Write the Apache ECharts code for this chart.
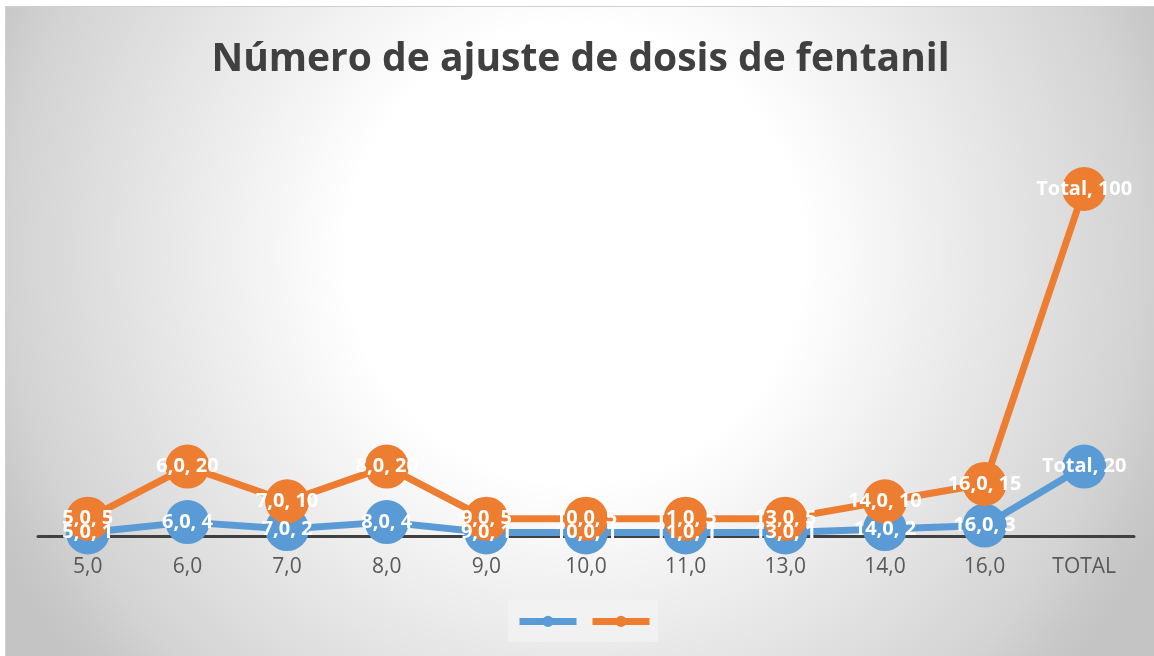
<!DOCTYPE html>
<html>
<head>
<meta charset="utf-8">
<script src="https://cdn.jsdelivr.net/npm/echarts@6/dist/echarts.min.js"></script>
<style>
  html, body { margin: 0; padding: 0; background: #ffffff; }
  #chart {
    position: absolute; left: 5px; top: 6px; width: 1149px; height: 650px;
    border-left: 1px solid #d0d0d0; border-top: 1px solid #d0d0d0;
  }
</style>
</head>
<body>
<div id="chart"></div>
<script>
// categorias del eje x
var categorias = ["5,0", "6,0", "7,0", "8,0", "9,0", "10,0", "11,0", "13,0", "14,0", "16,0", "TOTAL"];
// nombres usados en las etiquetas
var nombresEtiqueta = ["5,0", "6,0", "7,0", "8,0", "9,0", "10,0", "11,0", "13,0", "14,0", "16,0", "Total"];
// serie azul
var serieAzul = [1, 4, 2, 4, 1, 1, 1, 1, 2, 3, 20];
// serie naranja
var serieNaranja = [5, 20, 10, 20, 5, 5, 5, 5, 10, 15, 100];

var myChart = echarts.init(document.getElementById("chart"));

function etiqueta(p) {
  return nombresEtiqueta[p.dataIndex] + ", " + p.value;
}

var labelStyle = {
  show: true,
  position: "inside",
  color: "#ffffff",
  fontFamily: "Open Sans",
  fontWeight: "bold",
  fontSize: 20,
  formatter: etiqueta,
};

// series solo para etiquetas (por encima de todos los marcadores)
function serieEtiquetas(datos) {
  return {
    type: "line",
    data: datos,
    symbol: "circle",
    symbolSize: 44,
    itemStyle: { color: "transparent", borderWidth: 0 },
    lineStyle: { width: 0, color: "transparent" },
    label: labelStyle,
    labelLayout: { hideOverlap: false },
    silent: true,
    z: 10,
  };
}

var option = {
  backgroundColor: {
    type: "radial",
    x: 0.495,
    y: 0.38,
    r: 1.0,
    colorStops: [
      { offset: 0, color: "#ffffff" },
      { offset: 0.35, color: "#ffffff" },
      { offset: 0.87, color: "#d3d3d3" },
      { offset: 0.95, color: "#c8c8c8" },
      { offset: 1, color: "#c4c4c4" },
    ],
  },
  animation: false,
  title: {
    text: "Número de ajuste de dosis de fentanil",
    left: "center",
    top: 28,
    textStyle: {
      fontFamily: "Open Sans",
      fontWeight: "bold",
      fontSize: 39,
      color: "#404040",
    },
  },
  legend: {
    data: ["Serie1", "Serie2"],
    bottom: 15,
    left: 502,
    padding: [15, 5, 15, 8],
    backgroundColor: "rgba(242,242,242,0.9)",
    itemWidth: 57,
    itemHeight: 14,
    itemGap: 9,
    lineStyle: { width: 7 },
    formatter: function () { return ""; },
    textStyle: { fontSize: 1, padding: 0 },
  },
  grid: {
    left: 32,
    right: 21,
    top: 182,
    bottom: 121,
    containLabel: false,
  },
  xAxis: {
    type: "category",
    data: categorias,
    boundaryGap: true,
    axisTick: { show: false },
    axisLine: { lineStyle: { color: "#404040", width: 3 } },
    axisLabel: {
      color: "#595959",
      fontFamily: "Open Sans",
      fontSize: 21,
      margin: 21,
      interval: 0,
    },
  },
  yAxis: {
    type: "value",
    min: 0,
    max: 100,
    show: false,
    splitLine: { show: false },
  },
  series: [
    {
      name: "Serie1",
      type: "line",
      data: serieAzul,
      color: "#5b9bd5",
      symbol: "circle",
      symbolSize: 44,
      lineStyle: { width: 7 },
      z: 2,
    },
    {
      name: "Serie2",
      type: "line",
      data: serieNaranja,
      color: "#ed7d31",
      symbol: "circle",
      symbolSize: 44,
      lineStyle: { width: 7 },
      z: 3,
    },
    serieEtiquetas(serieAzul),
    serieEtiquetas(serieNaranja),
  ],
};

myChart.setOption(option);
window.addEventListener("resize", function () {
  myChart.resize();
});
</script>
</body>
</html>
